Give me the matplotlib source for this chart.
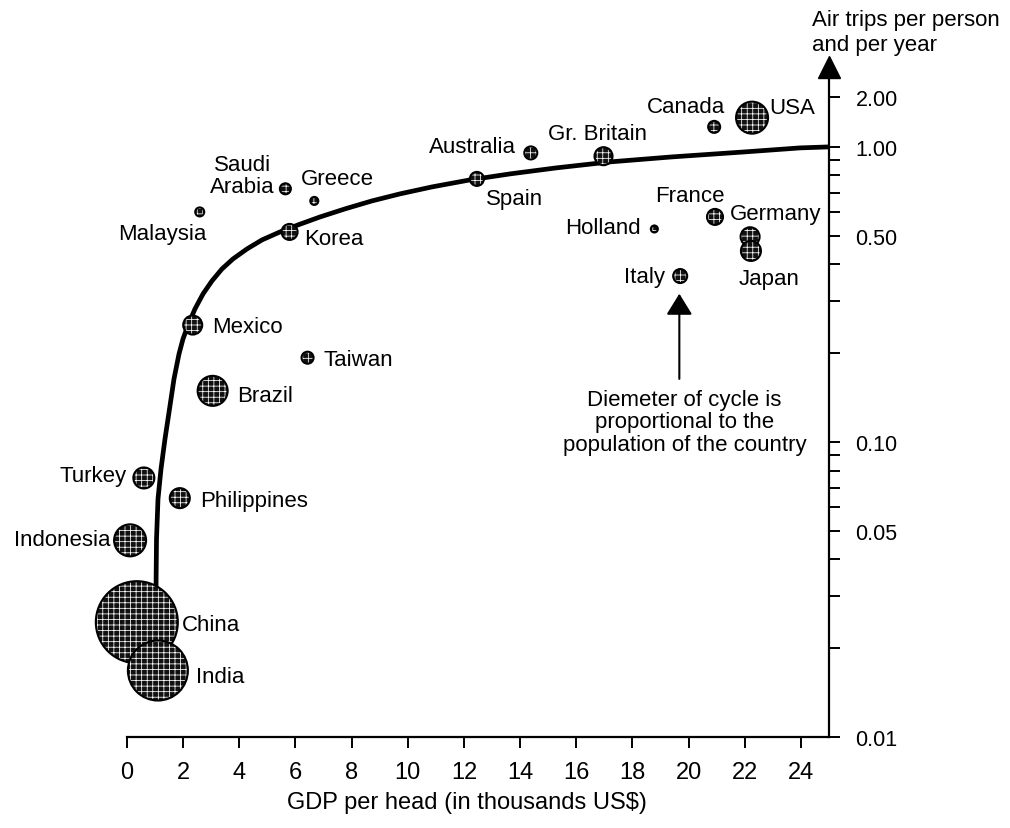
import numpy as np
import matplotlib
matplotlib.use("Agg")
import matplotlib.pyplot as plt
from matplotlib import font_manager
from matplotlib.ticker import FixedLocator, FuncFormatter, NullFormatter

# font settings
names = {f.name for f in font_manager.fontManager.ttflist}
narrow = "Liberation Sans Narrow" if "Liberation Sans Narrow" in names else "Liberation Sans"
plt.rcParams["font.family"] = ["Liberation Sans", "DejaVu Sans"]
plt.rcParams["hatch.linewidth"] = 0.55

# data
countries = ["China", "India", "Indonesia", "Turkey", "Philippines", "Brazil", "Mexico",
             "Taiwan", "Malaysia", "Saudi\nArabia", "Greece", "Korea", "Spain", "Australia",
             "Gr. Britain", "Holland", "Italy", "France", "Germany", "Japan", "Canada", "USA"]
gdp = [0.35, 1.10, 0.11, 0.60, 1.88, 3.05, 2.34,
       6.43, 2.59, 5.64, 6.67, 5.79, 12.46, 14.38,
       16.97, 18.78, 19.70, 20.94, 22.19, 22.22, 20.91, 22.26]
trips = [0.0245, 0.0168, 0.0464, 0.0755, 0.0645, 0.149, 0.249,
         0.193, 0.602, 0.721, 0.656, 0.515, 0.779, 0.954,
         0.93, 0.527, 0.365, 0.579, 0.496, 0.444, 1.32, 1.50]
# circle diameter (pixels), proportional to population
diam = [82, 60, 32, 21, 20, 30, 19,
        12, 9, 11, 8, 16, 14, 13,
        18, 7, 14, 16, 19, 20, 12, 32]

# trend curve
curve_x = [1.033, 1.051, 1.104, 1.211, 1.353, 1.514, 1.674, 1.852, 1.994, 2.190,
           2.422, 2.707, 3.027, 3.383, 3.775, 4.274, 4.808, 5.449, 6.090, 6.873,
           7.764, 8.725, 9.722, 10.862, 12.215, 13.640, 15.278, 17.201, 19.409,
           22.009, 23.967, 25.0]
curve_y = [0.0318, 0.0469, 0.0641, 0.0810, 0.1024, 0.1294, 0.1636, 0.1987, 0.2234,
           0.2512, 0.2825, 0.3175, 0.3515, 0.3859, 0.4172, 0.4510, 0.4839, 0.5150,
           0.5440, 0.5788, 0.6165, 0.6561, 0.6931, 0.7318, 0.7730, 0.8100, 0.8487,
           0.8896, 0.9249, 0.9618, 0.9922, 1.0]

x_ticks = list(range(0, 25, 2))
y_major = [0.01, 0.05, 0.10, 0.50, 1.00, 2.00]
y_minor = [0.02, 0.03, 0.04, 0.06, 0.07, 0.08, 0.09, 0.2, 0.3, 0.4, 0.6, 0.7, 0.8, 0.9]

# label placement: (dx, dy) in pixels, horizontal alignment
label_pos = {
    "China": (45, -2, "left"), "India": (38, -6, "left"), "Indonesia": (-20, 1, "right"),
    "Turkey": (-17, 2, "right"), "Philippines": (20, -2, "left"), "Brazil": (24, -5, "left"),
    "Mexico": (19, -1, "left"), "Taiwan": (16, -2, "left"), "Malaysia": (-37, -22, "center"),
    "Saudi\nArabia": (-11, 13, "right"), "Greece": (-13, 22, "left"), "Korea": (15, -7, "left"),
    "Spain": (9, -20, "left"), "Australia": (-15, 6, "right"), "Gr. Britain": (-6, 23, "center"),
    "Holland": (-14, 1, "right"), "Italy": (-15, 0, "right"), "France": (-25, 21, "center"),
    "Germany": (-20, 23, "left"), "Japan": (18, -28, "center"), "Canada": (11, 20, "right"),
    "USA": (17, 10, "left"),
}

# y scale of the original: log below 1, compressed log above 1
k = 166 / 295


def fwd(y):
    y = np.clip(np.asarray(y, dtype=float), 1e-12, None)
    ly = np.log10(y)
    return np.where(ly <= 0, ly, k * ly)


def inv(u):
    u = np.asarray(u, dtype=float)
    return np.where(u <= 0, 10.0 ** u, 10.0 ** (u / k))


fig = plt.figure(figsize=(10.10, 8.29), dpi=100)
ax = fig.add_axes([127 / 1010, 91 / 829, 702 / 1010, 659 / 829])
ax.set_yscale("function", functions=(fwd, inv))
ax.set_xlim(0, 25)
ax.set_ylim(0.01, 2.60)

ax.plot(curve_x, curve_y, color="black", lw=3.4, solid_capstyle="round",
        solid_joinstyle="round", zorder=2)

s = [(d * 0.72) ** 2 for d in diam]
for i in range(len(countries)):
    ax.scatter(gdp[i], trips[i], s=s[i], facecolors="#111111", edgecolors="white",
               hatch="+++", linewidths=0, zorder=3 + 2 * i, clip_on=False)
    ax.scatter(gdp[i], trips[i], s=s[i], facecolors="none", edgecolors="black",
               linewidths=1.5, zorder=4 + 2 * i, clip_on=False)
    dx, dy, ha = label_pos[countries[i]]
    ax.annotate(countries[i], (gdp[i], trips[i]), xytext=(dx, dy), textcoords="offset pixels",
                ha=ha, va="center", fontsize=16, multialignment="center", linespacing=1.05,
                zorder=60)

# axes look
for side in ["left", "top"]:
    ax.spines[side].set_visible(False)
for side in ["right", "bottom"]:
    ax.spines[side].set_linewidth(1.6)
ax.yaxis.tick_right()
ax.yaxis.set_major_locator(FixedLocator(y_major))
ax.yaxis.set_minor_locator(FixedLocator(y_minor))
ax.yaxis.set_major_formatter(FuncFormatter(lambda v, p: f"{v:.2f}"))
ax.yaxis.set_minor_formatter(NullFormatter())
ax.tick_params(axis="y", which="both", direction="out", length=8, width=1.4, pad=11,
               labelsize=15.5)
ax.set_xticks(x_ticks)
ax.tick_params(axis="x", direction="out", length=8, width=1.4, pad=9)
for t in ax.get_xticklabels():
    t.set_fontfamily(narrow)
    t.set_fontsize(17)

# arrow on top of the y axis
ax.plot(1, 1.016, marker="^", ms=16, color="black", transform=ax.transAxes, clip_on=False)
fig.text(812 / 1010, 1 - 33 / 829, "Air trips per person\nand per year", ha="left", va="center",
         fontsize=16, linespacing=1.2)

# note about circle size
ax.annotate("", xy=(19.67, 0.318), xytext=(19.67, 0.1636),
            arrowprops=dict(arrowstyle="-|>,head_length=0.65,head_width=0.4", color="black",
                            lw=1.5, mutation_scale=20, shrinkA=0, shrinkB=0))
ax.text(19.85, 0.117, "Diemeter of cycle is\nproportional to the\npopulation of the country",
        ha="center", va="center", fontsize=16, linespacing=1.1)

fig.text(467 / 1010, 1 - 803 / 829, "GDP per head (in thousands US$)", ha="center", va="center",
         fontsize=17, family=narrow)

fig.savefig("out.png", dpi=100)
